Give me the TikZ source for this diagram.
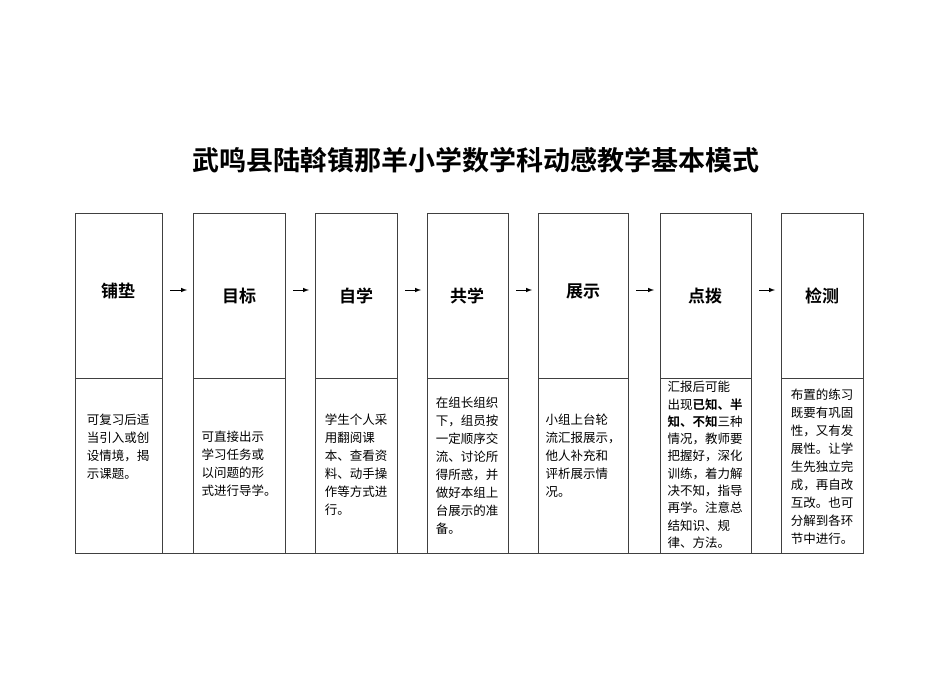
\documentclass[tikz,border=0pt]{standalone}
\usepackage{fontspec}
\setmainfont{Noto Sans CJK SC}
\newfontfamily\cjkb{Noto Sans CJK SC Bold}
\begin{document}
\begin{tikzpicture}[x=1pt,y=-1pt,
  box/.style={draw=black!75,line width=0.8pt},
  head/.style={font=\cjkb\fontsize{17}{20}\selectfont},
  body/.style={anchor=north,align=left,inner sep=0pt,font=\fontsize{12.5}{18}\selectfont},
  arr/.style={-latex,line width=1pt}]
\useasboundingbox (0,0) rectangle (950,672);
\node[font=\cjkb\fontsize{27}{30}\selectfont] (title) at (476,160) {武鸣县陆斡镇那羊小学数学科动感教学基本模式};
\foreach \n/\a/\b in {1/75/162,2/193/285,3/315/397,4/427/508,5/538/628,6/660/751,7/781/863}{
  \draw[box] (\a,213) rectangle (\b,553);
  \draw[box] (\a,378) -- (\b,378);
  \coordinate (L\n) at (\a,290);
  \coordinate (R\n) at (\b,290);
}
\draw[box] (75,553) -- (863,553);
\node[head] (h1) at (118,291) {铺垫};
\node[head] (h2) at (239,296) {目标};
\node[head] (h3) at (356,296) {自学};
\node[head] (h4) at (467,296) {共学};
\node[head] (h5) at (583,291) {展示};
\node[head] (h6) at (705,296) {点拨};
\node[head] (h7) at (822,296) {检测};
\foreach \i/\j in {1/2,2/3,3/4,4/5,5/6,6/7}{
  \draw[arr] ([xshift=8]R\i) -- ([xshift=-6]L\j);
}
\node[body] (t1) at (118,414) {可复习后适\\当引入或创\\设情境，揭\\示课题。};
\node[body] (t2) at (239,431) {可直接出示\\学习任务或\\以问题的形\\式进行导学。};
\node[body] (t3) at (356,414) {学生个人采\\用翻阅课\\本、查看资\\料、动手操\\作等方式进\\行。};
\node[body] (t4) at (467,397) {在组长组织\\下，组员按\\一定顺序交\\流、讨论所\\得所惑，并\\做好本组上\\台展示的准\\备。};
\node[body] (t5) at (583,414) {小组上台轮\\流汇报展示，\\他人补充和\\评析展示情\\况。};
\node[body,font=\fontsize{12.5}{17.3}\selectfont] (t6) at (705,381) {汇报后可能\\出现{\cjkb 已知、半}\\{\cjkb 知、不知}三种\\情况，教师要\\把握好，深化\\训练，着力解\\决不知，指导\\再学。注意总\\结知识、规\\律、方法。};
\node[body] (t7) at (822,389) {布置的练习\\既要有巩固\\性，又有发\\展性。让学\\生先独立完\\成，再自改\\互改。也可\\分解到各环\\节中进行。};
\end{tikzpicture}
\end{document}
